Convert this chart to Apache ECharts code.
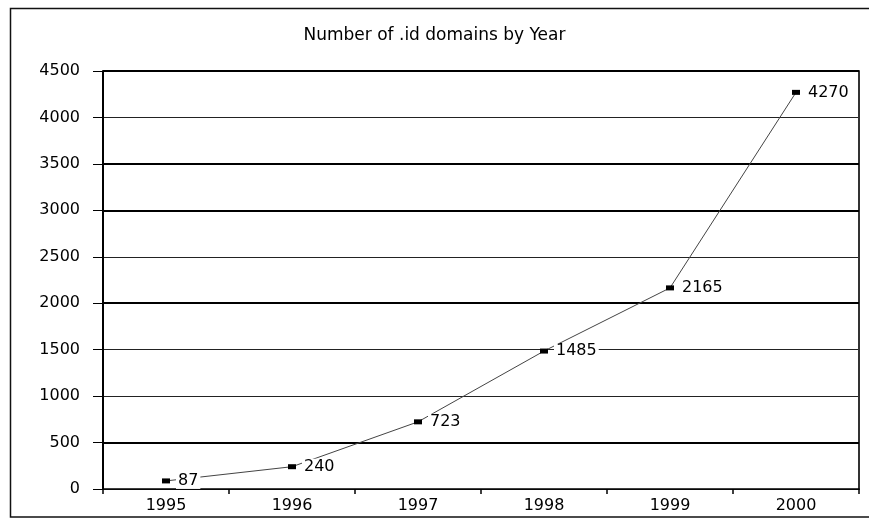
<!DOCTYPE html>
<html>
<head>
<meta charset="utf-8">
<script src="https://cdn.jsdelivr.net/npm/echarts@6/dist/echarts.min.js"></script>
<style>html,body{margin:0;padding:0;background:#fff}#c{width:869px;height:519px}</style>
</head>
<body>
<div id="c"></div>
<script>
var titleText = 'Number of .id domains by Year';
var years = ['1995', '1996', '1997', '1998', '1999', '2000'];
var domains = [87, 240, 723, 1485, 2165, 4270];
var yTicks = [0, 500, 1000, 1500, 2000, 2500, 3000, 3500, 4000, 4500];

var chart = echarts.init(document.getElementById('c'), null, {renderer: 'canvas'});
var font = '"DejaVu Sans", Arial, sans-serif';
chart.setOption({
  animation: false,
  backgroundColor: '#fff',
  title: {
    text: titleText, left: 'center', top: 22,
    textStyle: {fontFamily: font, fontSize: 17, fontWeight: 'normal', color: '#000'}
  },
  graphic: [{
    type: 'rect', shape: {x: 10.5, y: 8.5, width: 880, height: 508.5},
    style: {fill: 'none', stroke: '#111', lineWidth: 1.5}, silent: true, z: -1
  }],
  grid: {left: 103, right: 10, top: 71, bottom: 30, containLabel: false},
  xAxis: {
    type: 'category', data: years, boundaryGap: true,
    axisLine: {lineStyle: {color: '#000', width: 1.5}},
    axisTick: {show: true, length: 5, inside: false, alignWithLabel: false, lineStyle: {color: '#000', width: 1.5}},
    axisLabel: {fontFamily: font, fontSize: 16, color: '#000', margin: 9}
  },
  yAxis: [{
    type: 'value', min: yTicks[0], max: yTicks[yTicks.length - 1], interval: yTicks[1] - yTicks[0],
    axisLine: {show: true, lineStyle: {color: '#000', width: 2}},
    axisTick: {show: true, length: 10, lineStyle: {color: '#000', width: 1}},
    axisLabel: {fontFamily: font, fontSize: 16, color: '#000', margin: 23, formatter: function (v) { return String(v); }},
    splitLine: {show: true, lineStyle: {color: '#222', width: 1}}
  }, {
    type: 'value', min: yTicks[0], max: yTicks[yTicks.length - 1], position: 'right',
    axisLine: {show: true, lineStyle: {color: '#333', width: 2}},
    axisTick: {show: false}, axisLabel: {show: false}, splitLine: {show: false}
  }],
  series: [{
    type: 'line', data: domains, yAxisIndex: 0,
    symbol: 'rect', symbolSize: [8, 5],
    itemStyle: {color: '#000'},
    lineStyle: {color: '#444', width: 1},
    label: {
      show: true, position: 'right', distance: 6,
      fontFamily: font, fontSize: 16, color: '#000',
      backgroundColor: '#fff', padding: [0, 2]
    },
    markLine: {
      silent: true, symbol: 'none', label: {show: false},
      lineStyle: {color: '#000', width: 2, type: 'solid'},
      data: [{yAxis: 500}, {yAxis: 2000}, {yAxis: 3000}, {yAxis: 3500}, {yAxis: 4500}],
      z: 1
    },
    z: 3
  }]
});
</script>
</body>
</html>
